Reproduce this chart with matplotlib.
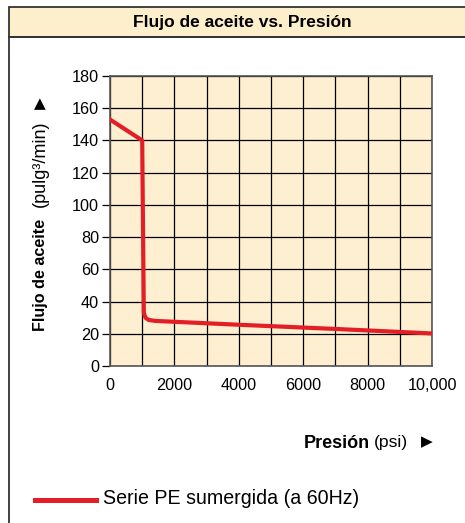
import matplotlib
matplotlib.use("Agg")
import matplotlib.pyplot as plt
from matplotlib.patches import Rectangle
from matplotlib.lines import Line2D

# curve (psi, pulg3/min)
presion = [0, 1000, 1050, 1100, 1200, 1400, 4000, 7000, 10000]
flujo = [153, 140, 33, 30, 28.6, 28.0, 25.6, 23.0, 20.2]

x_ticks = [0, 2000, 4000, 6000, 8000, 10000]
x_labels = ["0", "2000", "4000", "6000", "8000", "10,000"]
y_ticks = list(range(0, 181, 20))

title = "Flujo de aceite vs. Presión"
serie = "Serie PE sumergida (a 60Hz)"

plt.rcParams['font.family'] = ['Liberation Sans', 'DejaVu Sans']

W, H = 465, 523
fig = plt.figure(figsize=(W / 100, H / 100), dpi=100)

def fx(px):
    return px / W

def fy(py):
    return 1 - py / H

# outer frame and title band
fig.patches.append(Rectangle((fx(9), fy(37)), fx(470) - fx(9), fy(7) - fy(37),
                             transform=fig.transFigure, facecolor='#fdefcc',
                             edgecolor='#333333', lw=1.3, zorder=-1))
fig.patches.append(Rectangle((fx(9), fy(530)), fx(470) - fx(9), fy(37) - fy(530),
                             transform=fig.transFigure, facecolor='none',
                             edgecolor='#333333', lw=1.3, zorder=-1))
fig.text(fx(242), fy(22), title, ha='center', va='center', fontsize=12.5,
         fontweight='bold')

ax = fig.add_axes([fx(110), fy(366), fx(432) - fx(110), fy(76) - fy(366)])
ax.set_facecolor('#fdefcf')
ax.plot(presion, flujo, color='#e41e26', lw=3.0, solid_joinstyle='round', zorder=3)

ax.set_xlim(0, 10000)
ax.set_ylim(0, 180)
ax.set_xticks(range(0, 10001, 1000), minor=True)
ax.set_xticks(x_ticks)
ax.set_xticklabels(x_labels)
ax.set_yticks(y_ticks)
ax.grid(True, which='both', color='black', lw=0.9)
ax.tick_params(axis='x', which='both', length=0, pad=9, labelsize=11.7)
ax.tick_params(axis='y', length=6, width=0.9, pad=2, labelsize=11.7)
for s in ax.spines.values():
    s.set_color('#555555')
    s.set_linewidth(1.2)

# y label pieces
fig.text(fx(40), fy(331), "Flujo de aceite", rotation=90, ha='center', va='bottom',
         fontsize=11.6, fontweight='bold')
fig.text(fx(40), fy(207), "(pulg³/min)", rotation=90, ha='center', va='bottom',
         fontsize=13)
fig.text(fx(40), fy(104), "▲", rotation=0, ha='center', va='center', fontsize=11,
         family=['DejaVu Sans'])

# x label pieces
fig.text(fx(370), fy(443), "Presión", ha='right', va='center', fontsize=13,
         fontweight='bold')
fig.text(fx(374), fy(443), "(psi)", ha='left', va='center', fontsize=12.6)
fig.text(fx(427), fy(442), "▶", ha='center', va='center', fontsize=11,
         family=['DejaVu Sans'])

# legend
fig.lines.append(Line2D([fx(35), fx(96)], [fy(500), fy(500)], transform=fig.transFigure,
                        color='#e41e26', lw=3.6))
fig.text(fx(103), fy(499), serie, ha='left', va='center', fontsize=14.1)

fig.savefig("out.png", dpi=100)
